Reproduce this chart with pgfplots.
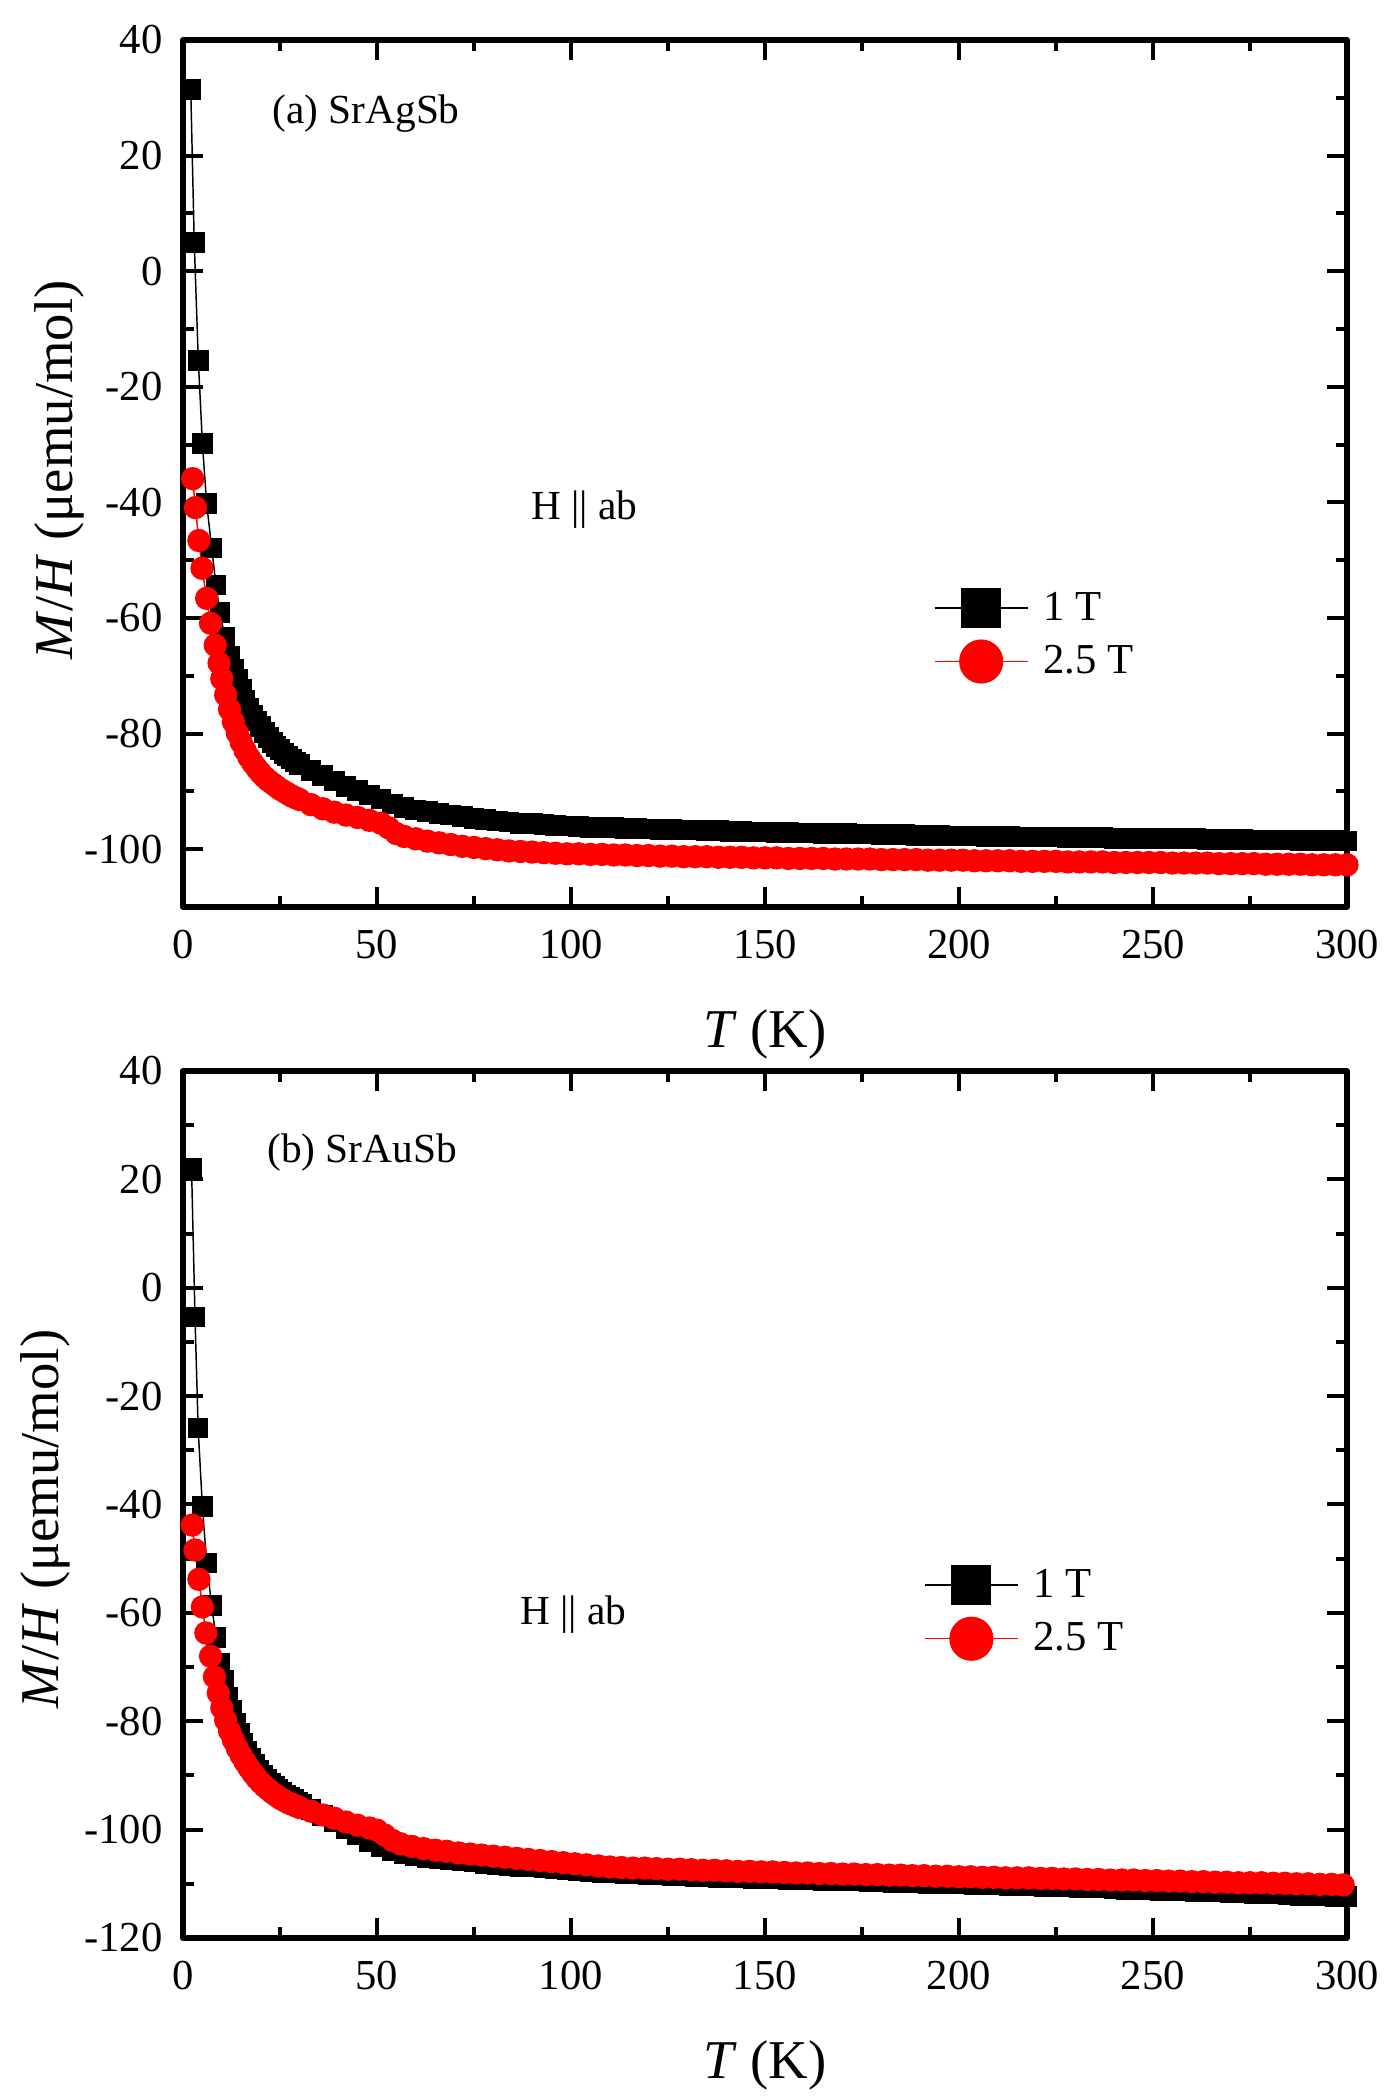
\documentclass[border=0pt]{standalone}
\usepackage{pgfplots}
\usepackage{pgfplotstable}
\pgfplotsset{compat=1.18}
\usepackage{fontspec}
\setmainfont{Liberation Serif}

\pgfplotstableread{
T v
2.0 31.4
2.9 5.0
3.95 -15.5
5.0 -29.8
6.1 -40.2
7.4 -47.9
8.5 -54.3
9.5 -59.1
10.8 -63.3
12.1 -66.7
13 -68.8
14 -70.7
15 -72.3
16 -74.2
17 -75.6
18 -76.8
19 -77.8
20 -78.8
21 -79.8
22 -80.7
23 -81.5
24 -82.2
25 -82.8
26 -83.4
27 -83.9
28 -84.4
29 -84.9
30 -85.3
33 -86.4
36 -87.3
39 -88.2
42 -89.1
45 -89.9
48 -90.6
51 -91.3
54 -92.2
57 -92.8
60 -93.2
63 -93.5
66 -93.8
69 -94.1
72 -94.4
75 -94.7
78 -94.9
81 -95.1
84 -95.3
87 -95.5
90 -95.6
93 -95.7
96 -95.9
99 -96.0
102 -96.1
105 -96.2
108 -96.2
111 -96.3
114 -96.4
117 -96.4
120 -96.5
123 -96.6
126 -96.6
129 -96.7
132 -96.7
135 -96.8
138 -96.8
141 -96.9
144 -96.9
147 -97.0
150 -97.0
153 -97.1
156 -97.1
159 -97.2
162 -97.2
165 -97.3
168 -97.3
171 -97.3
174 -97.4
177 -97.4
180 -97.5
183 -97.5
186 -97.5
189 -97.6
192 -97.6
195 -97.6
198 -97.7
201 -97.7
204 -97.7
207 -97.8
210 -97.8
213 -97.8
216 -97.9
219 -97.9
222 -97.9
225 -97.9
228 -98.0
231 -98.0
234 -98.0
237 -98.0
240 -98.1
243 -98.1
246 -98.1
249 -98.1
252 -98.2
255 -98.2
258 -98.2
261 -98.2
264 -98.3
267 -98.3
270 -98.3
273 -98.3
276 -98.4
279 -98.4
282 -98.4
285 -98.4
288 -98.5
291 -98.5
294 -98.5
297 -98.5
300 -98.6
}\agone

\pgfplotstableread{
T v
2.5 -35.9
3.2 -40.9
4.1 -46.6
4.9 -51.4
6.1 -56.6
7.1 -60.9
8.3 -64.7
9.3 -67.8
10 -70.5
11 -73.3
12 -75.8
13 -78.0
14 -79.9
15 -81.5
16 -82.9
17 -84.1
18 -85.1
19 -86.0
20 -86.8
21 -87.5
22 -88.1
23 -88.6
24 -89.1
25 -89.6
26 -90.0
27 -90.4
28 -90.8
29 -91.1
30 -91.4
33 -92.3
36 -93.0
39 -93.6
42 -94.1
45 -94.5
48 -95.0
51 -95.5
53 -96.3
55 -97.3
57 -97.8
60 -98.2
63 -98.6
66 -98.9
69 -99.2
72 -99.5
75 -99.7
78 -99.9
81 -100.1
84 -100.3
87 -100.4
90 -100.5
93 -100.6
96 -100.7
99 -100.8
102 -100.8
105 -100.9
108 -100.9
111 -101.0
114 -101.0
117 -101.1
120 -101.1
123 -101.2
126 -101.2
129 -101.3
132 -101.3
135 -101.3
138 -101.4
141 -101.4
144 -101.4
147 -101.5
150 -101.5
153 -101.5
156 -101.6
159 -101.6
162 -101.6
165 -101.6
168 -101.7
171 -101.7
174 -101.7
177 -101.7
180 -101.8
183 -101.8
186 -101.8
189 -101.8
192 -101.9
195 -101.9
198 -101.9
201 -101.9
204 -102.0
207 -102.0
210 -102.0
213 -102.0
216 -102.1
219 -102.1
222 -102.1
225 -102.1
228 -102.2
231 -102.2
234 -102.2
237 -102.2
240 -102.3
243 -102.3
246 -102.3
249 -102.3
252 -102.3
255 -102.4
258 -102.4
261 -102.4
264 -102.4
267 -102.5
270 -102.5
273 -102.5
276 -102.5
279 -102.6
282 -102.6
285 -102.6
288 -102.6
291 -102.7
294 -102.7
297 -102.7
300 -102.7
}\agtwo

\pgfplotstableread{
T v
2.2 22.1
3.1 -5.4
3.9 -25.9
5.0 -40.4
6.1 -50.8
7.4 -58.7
8.5 -64.5
9.5 -69.3
10.5 -72.5
11.5 -75.5
12.5 -78.0
13.5 -80.3
14.5 -82.3
15.5 -84.0
16.5 -85.5
17.5 -86.8
18.5 -88.0
19.5 -89.0
20.5 -89.9
21.5 -90.7
22.5 -91.4
23.5 -92.0
24.5 -92.6
25.5 -93.1
26.5 -93.6
27.5 -94.0
28.5 -94.5
29.5 -94.9
30.5 -95.3
33 -96.3
36 -97.4
39 -98.6
42 -99.8
45 -101.0
48 -102.2
51 -103.2
54 -103.9
57 -104.4
60 -104.8
63 -105.1
66 -105.4
69 -105.6
72 -105.8
75 -106.0
78 -106.2
81 -106.4
84 -106.6
87 -106.8
90 -106.9
93 -107.1
96 -107.2
99 -107.4
102 -107.6
105 -107.8
108 -107.9
111 -108.0
114 -108.1
117 -108.2
120 -108.3
123 -108.4
126 -108.5
129 -108.5
132 -108.6
135 -108.7
138 -108.8
141 -108.8
144 -108.9
147 -109.0
150 -109.0
153 -109.1
156 -109.2
159 -109.2
162 -109.3
165 -109.4
168 -109.4
171 -109.5
174 -109.5
177 -109.6
180 -109.6
183 -109.7
186 -109.8
189 -109.8
192 -109.9
195 -109.9
198 -110.0
201 -110.0
204 -110.1
207 -110.2
210 -110.2
213 -110.3
216 -110.4
219 -110.4
222 -110.5
225 -110.6
228 -110.6
231 -110.7
234 -110.8
237 -110.8
240 -110.9
243 -111.0
246 -111.0
249 -111.1
252 -111.2
255 -111.2
258 -111.3
261 -111.4
264 -111.5
267 -111.5
270 -111.6
273 -111.7
276 -111.8
279 -111.8
282 -111.9
285 -112.0
288 -112.1
291 -112.2
294 -112.2
297 -112.3
300 -112.3
}\auone

\pgfplotstableread{
T v
2.4 -43.8
3.1 -48.4
4.1 -53.8
5.0 -58.9
5.9 -63.7
7.1 -68.0
8.1 -71.8
9.1 -74.8
10 -77.5
11 -79.8
12 -81.8
13 -83.5
14 -85.0
15 -86.3
16 -87.5
17 -88.6
18 -89.6
19 -90.5
20 -91.3
21 -92.0
22 -92.6
23 -93.2
24 -93.7
25 -94.2
26 -94.6
27 -95.0
28 -95.3
29 -95.6
30 -95.9
33 -96.6
36 -97.3
39 -97.9
42 -98.6
45 -99.2
48 -99.7
50 -100.1
52 -101.0
54 -102.0
56 -102.6
59 -103.1
62 -103.5
65 -103.8
68 -104.0
71 -104.3
74 -104.5
77 -104.7
80 -104.9
83 -105.1
86 -105.3
89 -105.5
92 -105.7
95 -105.9
98 -106.1
101 -106.3
104 -106.5
107 -106.7
110 -106.9
113 -107.0
116 -107.1
119 -107.1
122 -107.2
125 -107.3
128 -107.3
131 -107.4
134 -107.5
137 -107.5
140 -107.6
143 -107.7
146 -107.7
149 -107.8
152 -107.8
155 -107.9
158 -108.0
161 -108.0
164 -108.1
167 -108.1
170 -108.2
173 -108.2
176 -108.3
179 -108.3
182 -108.4
185 -108.4
188 -108.5
191 -108.5
194 -108.6
197 -108.6
200 -108.7
203 -108.7
206 -108.8
209 -108.8
212 -108.9
215 -108.9
218 -108.9
221 -109.0
224 -109.0
227 -109.1
230 -109.1
233 -109.2
236 -109.2
239 -109.3
242 -109.3
245 -109.3
248 -109.4
251 -109.4
254 -109.5
257 -109.5
260 -109.6
263 -109.6
266 -109.7
269 -109.7
272 -109.8
275 -109.8
278 -109.8
281 -109.9
284 -109.9
287 -110.0
290 -110.0
293 -110.1
296 -110.1
299 -110.2
}\autwo

\pgfplotsset{
  panel/.style={
    scale only axis,
    width=436.5pt, height=325.125pt,
    anchor=south west,
    xmin=0, xmax=300,
    xtick={0,50,...,300},
    minor x tick num=1, minor y tick num=1,
    tick align=inside,
    major tick length=7.5pt, minor tick length=4pt,
    axis line style={line width=2.25pt, line join=round},
    every tick/.style={black, line width=1.5pt},
    /pgf/number format/assume math mode=true,
    ticklabel style={font=\fontsize{16}{19}\selectfont, inner sep=0pt},
    xticklabel shift=8.6pt,
    yticklabel shift=7.5pt,
    label style={font=\fontsize{20.5}{24}\selectfont},
    xlabel={\textit{T} (K)},
    ylabel={\textit{M}/\textit{H} (μemu/mol)},
    xlabel style={at={(axis description cs:0.5,-0.147)}, anchor=center},
    legend image code/.code={\draw[mark repeat=2,mark phase=2,#1] plot coordinates {(0pt,0pt)(17.5pt,0pt)(35pt,0pt)};},
    legend cell align=left,
    legend style={draw=none, fill=none, inner sep=0pt, outer sep=0pt,
      font=\fontsize{16}{19}\selectfont, row sep=4pt,
      nodes={inner sep=2pt}},
  },
  blk/.style={black, line width=0.55pt, mark=square*, mark size=3.6pt, mark options={solid, fill=black},
    legend image post style={mark size=7.2pt}},
  rd/.style={red, line width=0.55pt, mark=*, mark size=4.1pt, mark options={solid, fill=red},
    legend image post style={mark size=8pt}},
}

\begin{document}
\begin{tikzpicture}
\path[use as bounding box] (0pt,0pt) rectangle (523.125pt,787.5pt);

\begin{axis}[panel,
  at={(68.625pt,447.375pt)},
  ymin=-110, ymax=40,
  ytick={-100,-80,...,40},
  ylabel style={at={(axis description cs:-0.1065,0.504)}, anchor=center},
  legend style={at={(0.645,0.314)}, anchor=west},
]
\addplot[blk] table[x=T,y=v] {\agone};
\addlegendentry{\hspace{3.5pt}1 T}
\addplot[rd] table[x=T,y=v] {\agtwo};
\addlegendentry{\hspace{3.5pt}2.5 T}
\node[anchor=west, inner sep=0pt, font=\fontsize{15.5}{18}\selectfont] at (rel axis cs:0.0765,0.915) {(a) SrAgSb};
\node[anchor=west, inner sep=0pt, font=\fontsize{15.5}{18}\selectfont] at (rel axis cs:0.299,0.458) {H || ab};
\end{axis}

\begin{axis}[panel,
  at={(68.625pt,60.75pt)},
  ymin=-120, ymax=40,
  ytick={-120,-100,...,40},
  ylabel style={at={(axis description cs:-0.118,0.483)}, anchor=center},
  legend style={at={(0.6366,0.376)}, anchor=west},
]
\addplot[blk] table[x=T,y=v] {\auone};
\addlegendentry{\hspace{3.5pt}1 T}
\addplot[rd] table[x=T,y=v] {\autwo};
\addlegendentry{\hspace{3.5pt}2.5 T}
\node[anchor=west, inner sep=0pt, font=\fontsize{15.5}{18}\selectfont] at (rel axis cs:0.072,0.906) {(b) SrAuSb};
\node[anchor=west, inner sep=0pt, font=\fontsize{15.5}{18}\selectfont] at (rel axis cs:0.2895,0.373) {H || ab};
\end{axis}
\end{tikzpicture}
\end{document}
